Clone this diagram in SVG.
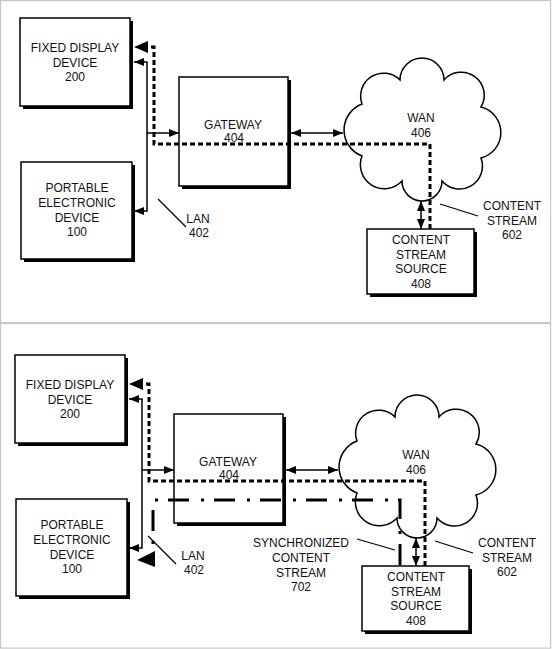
<svg xmlns="http://www.w3.org/2000/svg" width="554" height="649" viewBox="0 0 554 649">
<style>
.frame{fill:#fff;stroke:#c8c8c8;stroke-width:1.2}
.shadow{fill:#000}
.box{fill:#fff;stroke:#000;stroke-width:1.5}
.cloud{fill:#fff;stroke:#000;stroke-width:1.5}
.t{font-family:"Liberation Sans",Arial,sans-serif;font-size:12px;fill:#111;text-anchor:middle}
.solid{fill:none;stroke:#000;stroke-width:1.5}
.dash{fill:none;stroke:#000;stroke-width:3;stroke-dasharray:5 3}
.dashdot{fill:none;stroke:#000;stroke-width:3;stroke-dasharray:21 12 3 10;stroke-dashoffset:-20}
.leader{fill:none;stroke:#000;stroke-width:1.2}
</style>
<defs>
<marker id="arr" viewBox="0 0 10 8" refX="10" refY="4" markerWidth="10" markerHeight="8" markerUnits="userSpaceOnUse" orient="auto-start-reverse"><path d="M0,0 L10,4 L0,8 z" fill="#000"/></marker>
<marker id="bigarr" viewBox="0 0 14 12" refX="14" refY="6" markerWidth="14" markerHeight="12" markerUnits="userSpaceOnUse" orient="auto-start-reverse"><path d="M0,0 L14,6 L0,12 z" fill="#000"/></marker>
<g id="cloudshape"><path class="cloud" d="M362,104 A23,23 0 0 1 400,80 A22,22 0 0 1 444,80 A23,23 0 0 1 481,107 A26.3,26.3 0 0 1 481,158 A23,23 0 0 1 442,181 A20,20 0 0 1 402,181 A24,24 0 0 1 362,156 A27.8,27.8 0 0 1 362,104 Z"/></g>
</defs>
<rect class="frame" x="0.6" y="0.6" width="550" height="322"/>
<rect class="frame" x="0.6" y="323.6" width="550" height="324.5"/>

<g id="panel1">
  <g id="fixed-display-200">
    <rect class="shadow" x="23" y="21" width="110" height="88"/>
    <rect class="box" x="20" y="18" width="110" height="88"/>
    <text class="t" x="75" y="52">FIXED DISPLAY</text>
    <text class="t" x="75" y="66.5">DEVICE</text>
    <text class="t" x="75" y="81">200</text>
  </g>
  <g id="portable-device-100">
    <rect class="shadow" x="24" y="165" width="111" height="97"/>
    <rect class="box" x="21" y="162" width="111" height="97"/>
    <text class="t" x="77" y="192">PORTABLE</text>
    <text class="t" x="77" y="207">ELECTRONIC</text>
    <text class="t" x="77" y="222">DEVICE</text>
    <text class="t" x="77" y="236">100</text>
  </g>
  <g id="gateway-404">
    <rect class="shadow" x="182" y="80" width="109" height="109"/>
    <rect class="box" x="179" y="77" width="109" height="109"/>
    <text class="t" x="233" y="129">GATEWAY</text>
    <text class="t" x="234" y="142">404</text>
  </g>
  <g id="wan-406">
    <use href="#cloudshape"/>
    <text class="t" x="421" y="122">WAN</text>
    <text class="t" x="421" y="137">406</text>
  </g>
  <g id="content-stream-source-408">
    <rect class="shadow" x="370" y="232" width="107" height="65"/>
    <rect class="box" x="367" y="229" width="107" height="65"/>
    <text class="t" x="421" y="244">CONTENT</text>
    <text class="t" x="421" y="258.5">STREAM</text>
    <text class="t" x="421" y="273">SOURCE</text>
    <text class="t" x="421" y="288">408</text>
  </g>
  <g id="labels1">
    <text class="t" x="198" y="223">LAN</text>
    <text class="t" x="199" y="237">402</text>
    <text class="t" x="512" y="210">CONTENT</text>
    <text class="t" x="512" y="225">STREAM</text>
    <text class="t" x="512" y="239">602</text>
  </g>
  <g id="connectors1">
    <path class="solid" d="M134,62 H147 V211 H134" marker-start="url(#arr)" marker-end="url(#arr)"/>
    <path class="solid" d="M147,133 H179" marker-end="url(#arr)"/>
    <path class="solid" d="M291,133 H343" marker-start="url(#arr)" marker-end="url(#arr)"/>
    <path class="solid" d="M421,201 V229" marker-start="url(#arr)" marker-end="url(#arr)"/>
    <path class="dash" d="M430,229 V144 H154 V47 H147"/>
    <path d="M147,47 H134" stroke="none" fill="none" marker-end="url(#bigarr)"/>
    <path class="leader" d="M158,199 L186,227"/>
    <path class="leader" d="M440,204 L478,216"/>
  </g>
</g>

<g id="panel2" transform="translate(-5,337)">
  <g id="fixed-display-200-b">
    <rect class="shadow" x="23" y="21" width="110" height="88"/>
    <rect class="box" x="20" y="18" width="110" height="88"/>
    <text class="t" x="75" y="52">FIXED DISPLAY</text>
    <text class="t" x="75" y="66.5">DEVICE</text>
    <text class="t" x="75" y="81">200</text>
  </g>
  <g id="portable-device-100-b">
    <rect class="shadow" x="24" y="165" width="111" height="97"/>
    <rect class="box" x="21" y="162" width="111" height="97"/>
    <text class="t" x="77" y="192">PORTABLE</text>
    <text class="t" x="77" y="207">ELECTRONIC</text>
    <text class="t" x="77" y="222">DEVICE</text>
    <text class="t" x="77" y="236">100</text>
  </g>
  <g id="gateway-404-b">
    <rect class="shadow" x="182" y="80" width="109" height="109"/>
    <rect class="box" x="179" y="77" width="109" height="109"/>
    <text class="t" x="233" y="129">GATEWAY</text>
    <text class="t" x="234" y="142">404</text>
  </g>
  <g id="wan-406-b">
    <use href="#cloudshape"/>
    <text class="t" x="421" y="122">WAN</text>
    <text class="t" x="421" y="137">406</text>
  </g>
  <g id="content-stream-source-408-b">
    <rect class="shadow" x="370" y="232" width="107" height="65"/>
    <rect class="box" x="367" y="229" width="107" height="65"/>
    <text class="t" x="421" y="244">CONTENT</text>
    <text class="t" x="421" y="258.5">STREAM</text>
    <text class="t" x="421" y="273">SOURCE</text>
    <text class="t" x="421" y="288">408</text>
  </g>
  <g id="labels2">
    <text class="t" x="198" y="223">LAN</text>
    <text class="t" x="199" y="237">402</text>
    <text class="t" x="512" y="210">CONTENT</text>
    <text class="t" x="512" y="225">STREAM</text>
    <text class="t" x="512" y="239">602</text>
    <text class="t" x="306" y="210">SYNCHRONIZED</text>
    <text class="t" x="306" y="225">CONTENT</text>
    <text class="t" x="306" y="240">STREAM</text>
    <text class="t" x="306" y="254">702</text>
  </g>
  <g id="connectors2">
    <path class="solid" d="M134,62 H147 V211 H134" marker-start="url(#arr)" marker-end="url(#arr)"/>
    <path class="solid" d="M147,133 H179" marker-end="url(#arr)"/>
    <path class="solid" d="M291,133 H343" marker-start="url(#arr)" marker-end="url(#arr)"/>
    <path class="solid" d="M421,201 V229" marker-start="url(#arr)" marker-end="url(#arr)"/>
    <path class="dash" d="M430,229 V144 H154 V47 H147"/>
    <path d="M147,47 H134" stroke="none" fill="none" marker-end="url(#bigarr)"/>
    <path class="dashdot" d="M158,214 V163 H405 V230"/>
    <polygon points="142,223 160,214 160,230" fill="#000"/>
    <path class="leader" d="M153,199 L181,227"/>
    <path class="leader" d="M440,204 L478,216"/>
    <path class="leader" d="M362,202 L400,213"/>
  </g>
</g>
</svg>
